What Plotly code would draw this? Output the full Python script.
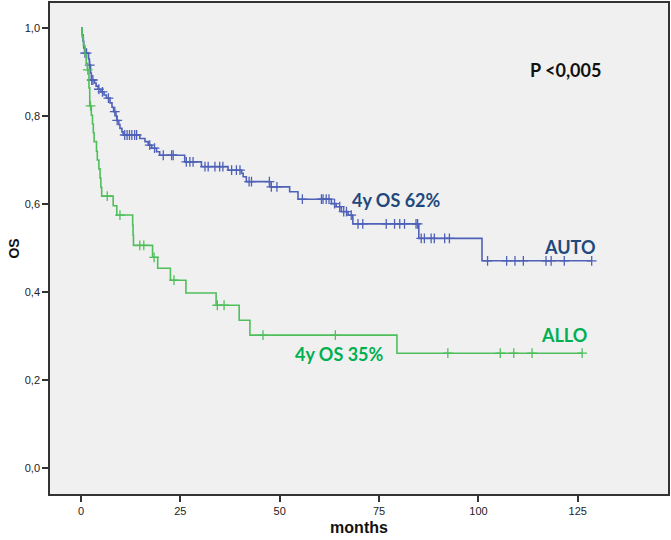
import numpy as np
import plotly.graph_objects as go

# Kaplan-Meier overall survival, AUTO vs ALLO transplant
# step times (months) and survival level after each step
auto_t = [0, 0.3, 0.5, 0.7, 0.9, 1.9, 2.1, 2.4, 2.6, 3.4, 3.8, 4.3, 5.0, 5.8, 6.4,
          7.3, 7.8, 8.2, 8.8, 9.0, 9.5, 9.8, 10.3, 10.6, 14.8, 16.1, 16.9, 17.8,
          19.0, 19.8, 26.1, 30.3, 37.0, 40.4, 40.8, 41.6, 47.5, 52.5, 54.6, 63.0,
          64.2, 65.5, 67.2, 68.4, 85.0, 100.9]
auto_s = [1.0, 0.985, 0.97, 0.955, 0.943, 0.93, 0.916, 0.898, 0.882, 0.875, 0.868,
          0.861, 0.855, 0.848, 0.841, 0.83, 0.82, 0.81, 0.80, 0.79, 0.781, 0.772,
          0.764, 0.757, 0.749, 0.742, 0.734, 0.727, 0.719, 0.711, 0.696, 0.685,
          0.677, 0.670, 0.662, 0.651, 0.639, 0.628, 0.611, 0.601, 0.594, 0.583,
          0.575, 0.555, 0.522, 0.471]
auto_end = 128.5
auto_cens = [1.0, 1.4, 2.2, 2.7, 3.0, 4.5, 5.4, 6.9, 8.5, 9.1, 11.0, 11.6, 12.2,
             12.8, 13.5, 14.0, 17.3, 18.5, 20.7, 22.8, 23.2, 26.5, 27.4, 28.2,
             31.2, 32.0, 33.7, 34.9, 35.7, 37.9, 39.1, 40.0, 42.3, 42.9, 47.4,
             47.9, 49.3, 55.7, 60.5, 60.9, 61.7, 62.4, 63.8, 65.1, 66.1, 66.8,
             68.0, 69.7, 70.9, 76.8, 78.9, 80.2, 81.4, 84.3, 84.7, 85.6, 86.4,
             88.1, 88.9, 91.5, 92.7, 102.3, 107.1, 109.2, 111.3, 117.0, 118.3,
             121.6, 128.5]

allo_t = [0, 0.3, 0.6, 1.0, 1.3, 1.6, 2.0, 2.2, 2.6, 2.9, 3.1, 3.3, 3.9, 4.1, 4.5,
          4.8, 5.0, 5.2, 8.1, 9.0, 13.0, 13.1, 13.2, 18.0, 19.3, 22.5, 26.4, 34.0,
          39.8, 42.5, 79.5]
allo_s = [1.0, 0.98, 0.96, 0.94, 0.92, 0.905, 0.864, 0.823, 0.802, 0.782, 0.762,
          0.742, 0.72, 0.70, 0.68, 0.659, 0.638, 0.618, 0.596, 0.575, 0.552, 0.529,
          0.506, 0.479, 0.454, 0.427, 0.398, 0.370, 0.336, 0.302, 0.261]
allo_end = 126.1
allo_cens = [1.7, 2.4, 6.6, 9.8, 14.8, 15.8, 18.4, 23.4, 34.3, 36.0, 45.8, 64.0,
             92.3, 105.5, 108.9, 113.5, 126.1]

x_ticks = [0, 25, 50, 75, 100, 125]
y_ticks = [0.0, 0.2, 0.4, 0.6, 0.8, 1.0]
y_tick_labels = ["0,0", "0,2", "0,4", "0,6", "0,8", "1,0"]

AUTO_COLOR = "#4f61b8"
ALLO_COLOR = "#4fbf5c"


def level_at(times, surv, t):
    idx = np.searchsorted(np.asarray(times), np.asarray(t), side="right") - 1
    return np.asarray(surv)[idx]


fig = go.Figure()

for times, surv, end, cens, color in [
    (auto_t, auto_s, auto_end, auto_cens, AUTO_COLOR),
    (allo_t, allo_s, allo_end, allo_cens, ALLO_COLOR),
]:
    fig.add_trace(go.Scatter(
        x=list(times) + [end], y=list(surv) + [surv[-1]],
        mode="lines", line=dict(color=color, width=1.6, shape="hv"),
        showlegend=False, hoverinfo="skip"))
    fig.add_trace(go.Scatter(
        x=cens, y=level_at(times, surv, cens),
        mode="markers",
        marker=dict(symbol="cross-thin", size=7, line=dict(color=color, width=1.3)),
        showlegend=False, hoverinfo="skip"))

ann_font = "Lato, Carlito, Open Sans, sans-serif"
annotations = [
    dict(text="<b>P <0,005</b>", x=567, y=70, color="#111111"),
    dict(text="<b>4y OS 62%</b>", x=398, y=200, color="#1f497d"),
    dict(text="<b>AUTO</b>", x=571, y=247, color="#1f497d"),
    dict(text="<b>ALLO</b>", x=566, y=335, color="#00b050"),
    dict(text="<b>4y OS 35%</b>", x=340, y=354, color="#00b050"),
]
for a in annotations:
    fig.add_annotation(
        text=a["text"], xref="paper", yref="paper",
        x=(a["x"] - 50) / 620, y=(494 - a["y"]) / 491,
        xanchor="center", yanchor="middle", showarrow=False,
        font=dict(family=ann_font, size=18, color=a["color"]))

axis_font = dict(family="Liberation Sans Narrow, Liberation Sans, Arial, sans-serif",
                 size=11, color="#222222")

fig.update_layout(
    width=671, height=540,
    margin=dict(l=50, r=1, t=3, b=46),
    paper_bgcolor="white", plot_bgcolor="#f0f0f0",
    xaxis=dict(
        range=[-7.8, 147.7], tickvals=x_ticks, ticks="outside", ticklen=6,
        tickcolor="#333333", tickwidth=1.5, showgrid=False, zeroline=False,
        showline=True, linecolor="#333333", linewidth=1.5, mirror=True,
        tickfont=axis_font,
        title=dict(text="<b>months</b>", standoff=6,
                   font=dict(family="Liberation Sans Narrow, Liberation Sans, Arial, sans-serif",
                             size=16, color="#111111"))),
    yaxis=dict(
        range=[-0.059, 1.057], tickvals=y_ticks, ticktext=y_tick_labels,
        ticks="outside", ticklen=6, tickcolor="#333333", tickwidth=1.5,
        showgrid=False, zeroline=False, showline=True, linecolor="#333333",
        linewidth=1.5, mirror=True, tickfont=axis_font,
        title=dict(text="<b>OS</b>", standoff=2,
                   font=dict(family="Liberation Sans, Arial, sans-serif",
                             size=14, color="#111111"))),
)

fig.write_html("out.html")
